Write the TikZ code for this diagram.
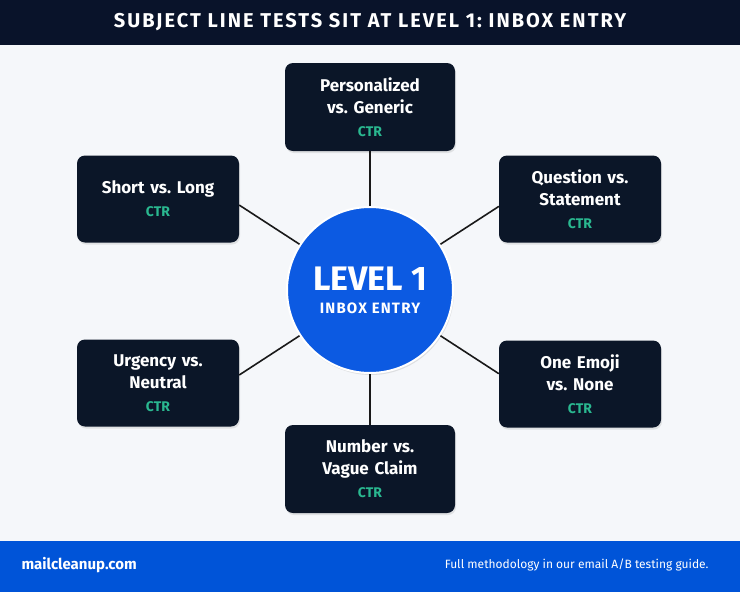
\documentclass[tikz,border=0pt]{standalone}
\usepackage{fontspec}
\setmainfont{Fira Sans}
\usetikzlibrary{shadows,calc}
\frenchspacing

\definecolor{headnavy}{RGB}{9,19,42}
\definecolor{boxnavy}{RGB}{11,22,40}
\definecolor{pagebg}{RGB}{245,247,250}
\definecolor{levelblue}{RGB}{12,90,226}
\definecolor{footblue}{RGB}{0,84,216}
\definecolor{ctrgreen}{RGB}{42,184,144}

\begin{document}
\begin{tikzpicture}[x=1pt, y=-1pt, node distance=183pt]
    \tikzstyle{testbox} = [rectangle, rounded corners=8pt, fill=boxnavy, text=white, minimum width=162pt, minimum height=87pt, text width=155pt, align=center, font=\bfseries\fontsize{17}{22}\selectfont, drop shadow={opacity=0.18, shadow xshift=1pt, shadow yshift=-2pt}]
    \tikzstyle{widebox} = [testbox, minimum width=170pt, minimum height=88pt]
    \tikzstyle{link} = [line width=1.6pt, black!90]
    \newcommand{\ctr}{\\[1pt]{\color{ctrgreen}\fontsize{14}{16}\selectfont CTR}}

    \useasboundingbox (0,0) rectangle (740,592);

    % Bands
    \fill[pagebg] (0,0) rectangle (740,592);
    \fill[headnavy] (0,0) rectangle (740,45);
    \fill[footblue] (0,541) rectangle (740,592);

    % Header and footer text
    \node [text=white, font=\bfseries\fontsize{20}{22}\selectfont\addfontfeature{LetterSpace=10}] (title) at (370,22) {SUBJECT LINE TESTS SIT AT LEVEL 1: INBOX ENTRY};
    \node [anchor=west, text=white, font=\bfseries\fontsize{15}{18}\selectfont] (site) at (18,565) {mailcleanup.com};
    \node [anchor=east, text=white, font=\fontsize{12}{15}\selectfont] (guide) at (712,565) {Full methodology in our email A/B testing guide.};

    % Centre
    \node [circle, fill=levelblue, draw=white, line width=2pt, minimum size=166pt, align=center, text=white, font=\bfseries\fontsize{15}{23}\selectfont, drop shadow={opacity=0.2, shadow xshift=1pt, shadow yshift=-2pt}] (lvl) at (370,290)
        {{\fontsize{34}{38}\selectfont LEVEL 1}\\{\addfontfeature{LetterSpace=8}INBOX ENTRY}};

    % Tests
    \node [widebox, above of=lvl] (pers) {Personalized\\vs. Generic\ctr};
    \node [widebox, below of=lvl, node distance=179pt] (numb) {Number vs.\\Vague Claim\ctr};
    \node [testbox, left of=lvl, node distance=212pt, yshift=91pt] (short) {Short vs. Long\ctr};
    \node [testbox, right of=lvl, node distance=210pt, yshift=91pt] (quest) {Question vs.\\Statement\ctr};
    \node [testbox, left of=lvl, node distance=212pt, yshift=-93pt] (urg) {Urgency vs.\\Neutral\ctr};
    \node [testbox, right of=lvl, node distance=210pt, yshift=-94pt] (emoji) {One Emoji\\vs. None\ctr};

    % Spokes
    \coordinate (rayshort) at ($(lvl.center)+(147:300pt)$);
    \coordinate (rayquest) at ($(lvl.center)+(33:300pt)$);
    \coordinate (rayurg) at ($(lvl.center)+(213:300pt)$);
    \coordinate (rayemoji) at ($(lvl.center)+(327:300pt)$);
    \coordinate (endshort) at (intersection of lvl.center--rayshort and short.north east--short.south east);
    \coordinate (endquest) at (intersection of lvl.center--rayquest and quest.north west--quest.south west);
    \coordinate (endurg) at (intersection of lvl.center--rayurg and urg.north east--urg.south east);
    \coordinate (endemoji) at (intersection of lvl.center--rayemoji and emoji.north west--emoji.south west);

    \draw [link] (lvl) -- (pers);
    \draw [link] (lvl) -- (numb);
    \draw [link] (lvl.147) -- (endshort);
    \draw [link] (lvl.33) -- (endquest);
    \draw [link] (lvl.213) -- (endurg);
    \draw [link] (lvl.327) -- (endemoji);
\end{tikzpicture}
\end{document}
